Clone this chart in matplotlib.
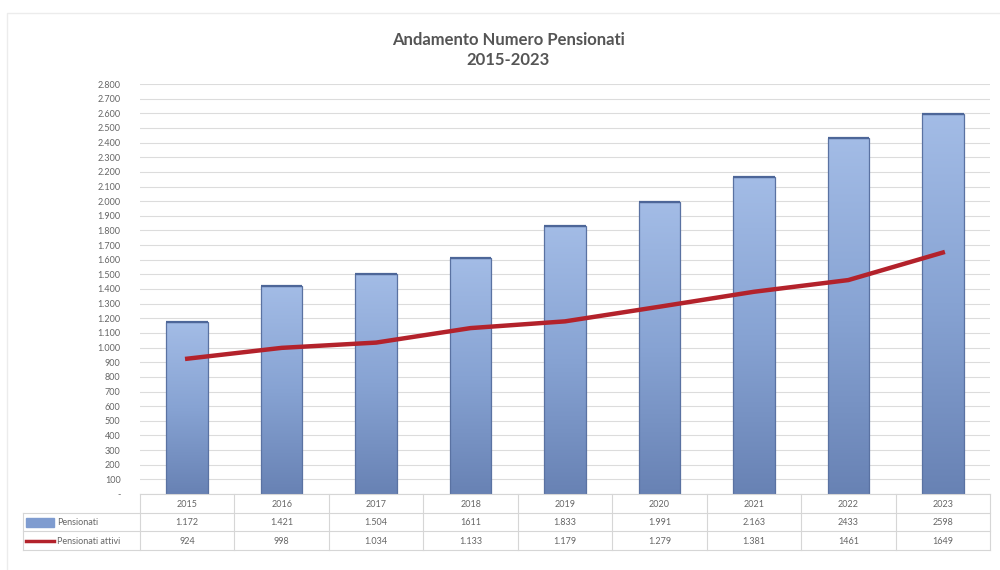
import matplotlib.pyplot as plt
import numpy as np
from matplotlib.ticker import FuncFormatter, MultipleLocator
from matplotlib.colors import LinearSegmentedColormap

plt.rcParams['font.family'] = ['Lato', 'DejaVu Sans']

# data
anni = ["2015", "2016", "2017", "2018", "2019", "2020", "2021", "2022", "2023"]
pensionati = [1172, 1421, 1504, 1611, 1833, 1991, 2163, 2433, 2598]
pensionati_attivi = [924, 998, 1034, 1133, 1179, 1279, 1381, 1461, 1649]
# labels as printed in the data table
lab_pensionati = ["1.172", "1.421", "1.504", "1611", "1.833", "1.991", "2.163", "2433", "2598"]
lab_attivi = ["924", "998", "1.034", "1.133", "1.179", "1.279", "1.381", "1461", "1649"]

W, H = 1000, 570
fig = plt.figure(figsize=(W / 100, H / 100), dpi=100)
fig.patch.set_facecolor("white")

# faint chart-area frame (runs off the bottom/right of the picture)
fig.patches.append(plt.Rectangle((7 / W, -0.1), 1.0, 1.1 - 13 / H, transform=fig.transFigure,
                                 fill=False, edgecolor="#ececec", lw=1))

left, right = 140 / W, 990 / W
ax = fig.add_axes([left, 1 - 494 / H, right - left, (494 - 84) / H])
x = np.arange(len(anni))

bw = 0.44
bars = ax.bar(x, pensionati, width=bw, color="#8aa6d6", zorder=2)
cmap = LinearSegmentedColormap.from_list("bl", ["#a3bce6", "#87a3d3", "#6882b4"])
grad = np.linspace(0, 1, 256).reshape(-1, 1)
for b in bars:
    bx, by = b.get_x(), b.get_y()
    bh = b.get_height()
    im = ax.imshow(grad, extent=[bx, bx + bw, by, by + bh], aspect="auto",
                   cmap=cmap, zorder=2.1, origin="upper")
    im.set_clip_path(b)
ax.bar(x, pensionati, width=bw, fill=False, edgecolor="#5a72a2", lw=0.9, zorder=2.2)
for b in bars:
    ax.plot([b.get_x(), b.get_x() + bw], [b.get_height()] * 2, color="#4d6698", lw=1.6,
            zorder=2.3, solid_capstyle="butt")

ax.plot(x, pensionati_attivi, color="#b3222b", lw=3.2, zorder=3)

ax.set_xlim(-0.5, len(anni) - 0.5)
ax.set_ylim(0, 2800)
ax.yaxis.set_major_locator(MultipleLocator(100))
ax.yaxis.set_major_formatter(FuncFormatter(
    lambda v, p: "-" if v == 0 else f"{int(v):,}".replace(",", ".")))
ax.tick_params(axis="y", length=0, pad=14, labelsize=6.5, labelcolor="#666666")
ax.set_xticks([])
ax.grid(axis="y", color="#dcdcdc", lw=0.8, zorder=0)
for s in ax.spines.values():
    s.set_visible(False)

# data table under the plot
tab = fig.add_axes([left, 1 - 550 / H, right - left, 56 / H])
tab.set_xlim(-0.5, len(anni) - 0.5)
tab.set_ylim(3, 0)
tab.axis("off")
lc = "#d6d6d6"
lx = -0.5 - 117 / 94.4
fs = 6.5
tc = "#666666"
for i in range(len(anni) + 1):
    tab.plot([i - 0.5, i - 0.5], [0, 3], color=lc, lw=0.8, clip_on=False)
tab.plot([-0.5, len(anni) - 0.5], [0, 0], color=lc, lw=0.8, clip_on=False)
for r in (1, 2, 3):
    tab.plot([lx, len(anni) - 0.5], [r, r], color=lc, lw=0.8, clip_on=False)
tab.plot([lx, lx], [1, 3], color=lc, lw=0.8, clip_on=False)
for i in range(len(anni)):
    tab.text(i, 0.55, anni[i], ha="center", va="center", fontsize=fs, color=tc)
    tab.text(i, 1.55, lab_pensionati[i], ha="center", va="center", fontsize=fs, color=tc)
    tab.text(i, 2.55, lab_attivi[i], ha="center", va="center", fontsize=fs, color=tc)

sw0 = -0.5 - 114 / 94.4
sw1 = -0.5 - 86 / 94.4
tab.add_patch(plt.Rectangle((sw0, 1.3), sw1 - sw0, 0.45, color="#7f9cd0", clip_on=False))
tab.plot([sw0, sw1], [2.5, 2.5], color="#b3222b", lw=2.5, clip_on=False)
tab.text(sw1 + 0.03, 1.55, "Pensionati", ha="left", va="center", fontsize=fs, color=tc)
tab.text(sw1 + 0.03, 2.55, "Pensionati attivi", ha="left", va="center", fontsize=fs, color=tc)

fig.text(0.508, 1 - 40 / H, "Andamento Numero Pensionati", ha="center", va="center",
         fontsize=12, color="#555555", fontweight="bold")
fig.text(0.508, 1 - 60 / H, "2015-2023", ha="center", va="center",
         fontsize=12, color="#555555", fontweight="bold")

fig.savefig("out.png", dpi=100)
